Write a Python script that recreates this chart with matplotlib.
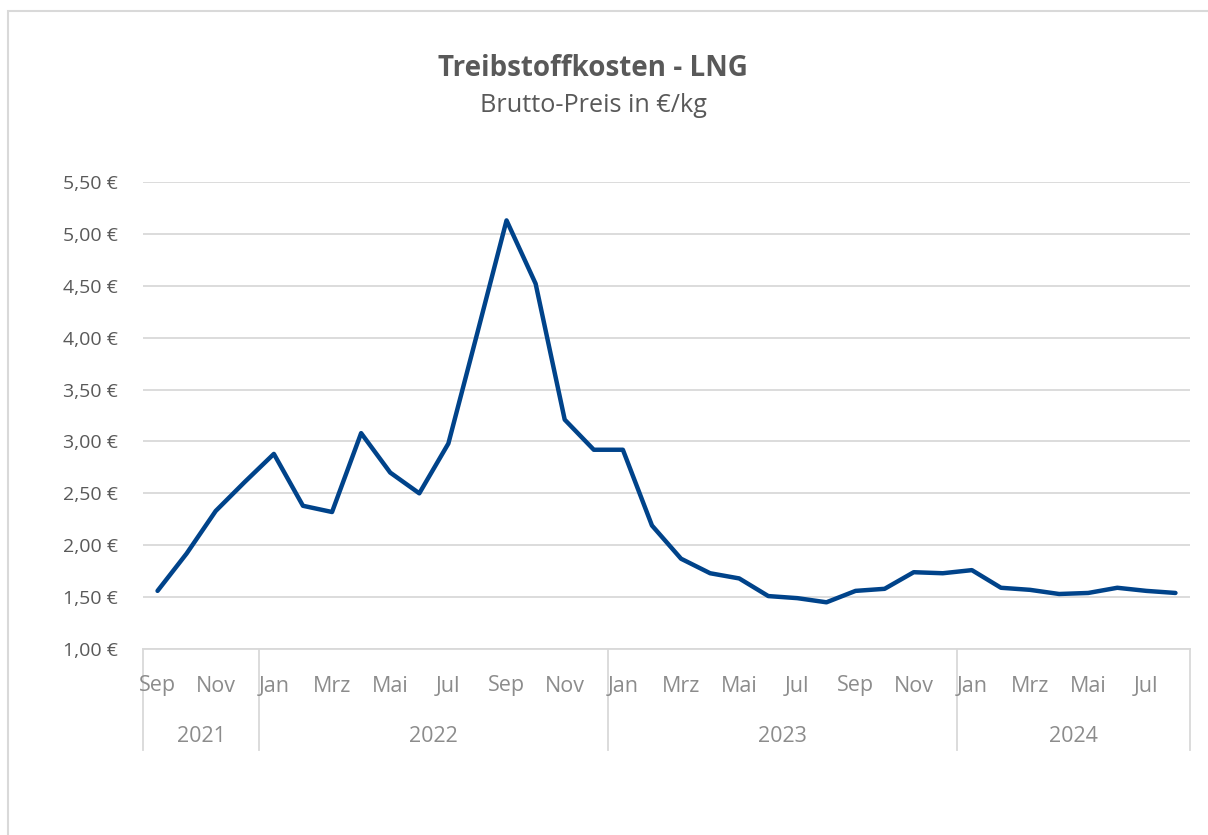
import matplotlib.pyplot as plt
from matplotlib.patches import Rectangle
from matplotlib.transforms import blended_transform_factory

plt.rcParams['font.family'] = ['Open Sans', 'DejaVu Sans']

# monthly LNG price, Sep 2021 .. Aug 2024
months = ["Sep", "Okt", "Nov", "Dez",
          "Jan", "Feb", "Mrz", "Apr", "Mai", "Jun", "Jul", "Aug", "Sep", "Okt", "Nov", "Dez",
          "Jan", "Feb", "Mrz", "Apr", "Mai", "Jun", "Jul", "Aug", "Sep", "Okt", "Nov", "Dez",
          "Jan", "Feb", "Mrz", "Apr", "Mai", "Jun", "Jul", "Aug"]
years = ["2021", "2022", "2023", "2024"]
months_per_year = [4, 12, 12, 8]
prices = [1.56, 1.92, 2.33, 2.61,
          2.88, 2.38, 2.32, 3.08, 2.70, 2.50, 2.98, 4.05, 5.13, 4.52, 3.21, 2.92,
          2.92, 2.19, 1.87, 1.73, 1.68, 1.51, 1.49, 1.45, 1.56, 1.58, 1.74, 1.73,
          1.76, 1.59, 1.57, 1.53, 1.54, 1.59, 1.56, 1.54]
yticks = [1.0, 1.5, 2.0, 2.5, 3.0, 3.5, 4.0, 4.5, 5.0, 5.5]

W, H = 1208, 835
fig = plt.figure(figsize=(W / 100, H / 100), dpi=100)
fig.patches.append(Rectangle((8 / W, -0.1), 1.2, 1 - 11 / H + 0.1, transform=fig.transFigure,
                             fill=False, edgecolor="#d9d9d9", lw=1.5))

ax = fig.add_axes([143 / W, 1 - 649 / H, (1190 - 143) / W, (649 - 182) / H])
x = list(range(len(prices)))
ax.plot(x, prices, color="#00438a", lw=3.2, solid_joinstyle="round", solid_capstyle="round",
        zorder=3)

ax.set_xlim(-0.5, len(prices) - 0.5)
ax.set_ylim(1.0, 5.5)
ax.set_yticks(yticks)
ax.set_yticklabels([f"{v:.2f} €".replace(".", ",") for v in yticks])
ax.tick_params(axis="y", length=0, pad=18, labelsize=14, labelcolor="#595959")
ax.grid(axis="y", color="#d9d9d9", lw=1.3)
ax.set_axisbelow(True)
for s in ["top", "right", "left"]:
    ax.spines[s].set_visible(False)
ax.spines["bottom"].set_color("#d9d9d9")
ax.spines["bottom"].set_linewidth(1.3)
ax.set_xticks([])

trans = blended_transform_factory(ax.transData, ax.transAxes)
ax_h = 649 - 182
for i in range(0, len(months), 2):
    ax.text(i, -(686 - 649) / ax_h, months[i], transform=trans, ha="center", va="center",
            fontsize=15.5, color="#8c8c8c")

start = -0.5
bottom = -(750 - 649) / ax_h
ax.plot([start, start], [0, bottom], transform=trans, color="#d9d9d9", lw=1.3, clip_on=False)
for yr, n in zip(years, months_per_year):
    end = start + n
    ax.plot([end, end], [0, bottom], transform=trans, color="#d9d9d9", lw=1.3, clip_on=False)
    ax.text((start + end) / 2, -(737 - 649) / ax_h, yr, transform=trans, ha="center",
            va="center", fontsize=15.5, color="#8c8c8c")
    start = end

fig.text(593 / W, 1 - 69 / H, "Treibstoffkosten - LNG", ha="center", va="center",
         fontsize=20, fontweight="bold", color="#595959")
fig.text(593 / W, 1 - 106 / H, "Brutto-Preis in €/kg", ha="center", va="center",
         fontsize=18.2, color="#595959")

fig.savefig("out.png", dpi=100)
